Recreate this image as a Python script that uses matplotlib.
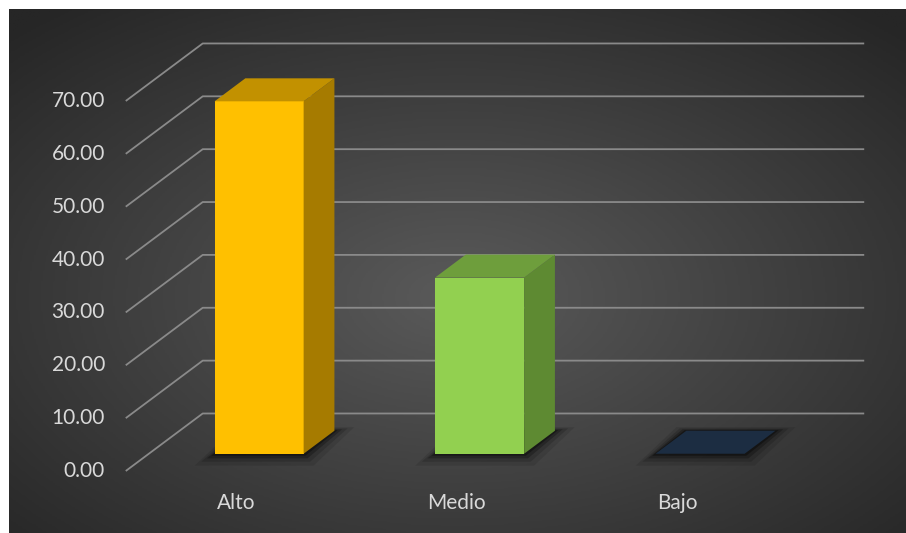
import numpy as np
import matplotlib.pyplot as plt
from matplotlib.patches import Polygon
from matplotlib.colors import LinearSegmentedColormap

# data
categories = ['Alto', 'Medio', 'Bajo']
values = [66.67, 33.33, 0.0]
ticks = [0, 10, 20, 30, 40, 50, 60, 70]
tick_labels = ['0.00', '10.00', '20.00', '30.00', '40.00', '50.00', '60.00', '70.00']

front_colors = ['#FFC000', '#92D050', '#1C2D42']
top_colors = ['#C29100', '#6E9E3C', '#1C2D42']
side_colors = ['#A67B00', '#5E8A32', '#1C2D42']

# fake 3d depth (in data units)
DX = 0.349
DY = 10.88
d0, d1 = 0.3, 0.7
half_w = 0.202

fig = plt.figure(figsize=(9.06, 5.33), dpi=100, facecolor='white')
ax = fig.add_axes([9 / 906, 0, 897 / 906, 524 / 533])
ax.set_xlim(-1.0295, 3.0385)
ax.set_ylim(-11.73, 87.4)
ax.axis('off')

# radial background
yy, xx = np.mgrid[0:1:300j, 0:1:500j]
r = np.sqrt(((xx - 0.5) / 0.75) ** 2 + ((yy - 0.45) / 0.75) ** 2)
cmap = LinearSegmentedColormap.from_list('bg', ['#5a5a5a', '#404040', '#262626'])
ax.imshow(r, cmap=cmap, extent=(0, 1, 0, 1), transform=ax.transAxes,
          aspect='auto', origin='lower', zorder=0, vmin=0, vmax=0.95)

# gridlines: slanted side wall + back wall
x_left = -0.5
x_right = len(categories) - 0.5
for t, lab in zip(ticks, tick_labels):
    ax.plot([x_left, x_left + DX, x_right + DX], [t, t + DY, t + DY],
            color='#8a8a8a', lw=1.3, zorder=1, solid_capstyle='butt')
    ax.annotate(lab, (x_left, t), xytext=(-15, 0), textcoords='offset points',
                ha='right', va='center', color='#d9d9d9', fontsize=15,
                family='Lato')

# bars
for i, (cat, v) in enumerate(zip(categories, values)):
    x0 = i - half_w
    x1 = i + half_w
    # shadow on the floor
    for k, a in [(0.09, 0.10), (0.06, 0.15), (0.035, 0.25), (0.015, 0.35)]:
        ex = k
        ey = k * 25
        shadow = [(x0 + d0 * DX - ex, d0 * DY - ey), (x1 + d0 * DX + ex * 0.5, d0 * DY - ey),
                  (x1 + d1 * DX + ex, d1 * DY + ey * 0.3), (x0 + d1 * DX - ex * 0.5, d1 * DY + ey * 0.3)]
        ax.add_patch(Polygon(shadow, closed=True, facecolor='black', alpha=a,
                             lw=0, zorder=2))
    front = [(x0 + d0 * DX, d0 * DY), (x1 + d0 * DX, d0 * DY),
             (x1 + d0 * DX, v + d0 * DY), (x0 + d0 * DX, v + d0 * DY)]
    top = [(x0 + d0 * DX, v + d0 * DY), (x1 + d0 * DX, v + d0 * DY),
           (x1 + d1 * DX, v + d1 * DY), (x0 + d1 * DX, v + d1 * DY)]
    side = [(x1 + d0 * DX, d0 * DY), (x1 + d1 * DX, d1 * DY),
            (x1 + d1 * DX, v + d1 * DY), (x1 + d0 * DX, v + d0 * DY)]
    if v > 0:
        ax.add_patch(Polygon(front, closed=True, facecolor=front_colors[i], lw=0, zorder=3))
        ax.add_patch(Polygon(side, closed=True, facecolor=side_colors[i], lw=0, zorder=3))
    ax.add_patch(Polygon(top, closed=True, facecolor=top_colors[i], lw=0, zorder=3))

    ax.annotate(cat, (i, 0), xytext=(0, -23), textcoords='offset points',
                ha='center', va='center', color='#d9d9d9', fontsize=15,
                family='Lato')

fig.savefig('out.png', dpi=100, facecolor='white')
